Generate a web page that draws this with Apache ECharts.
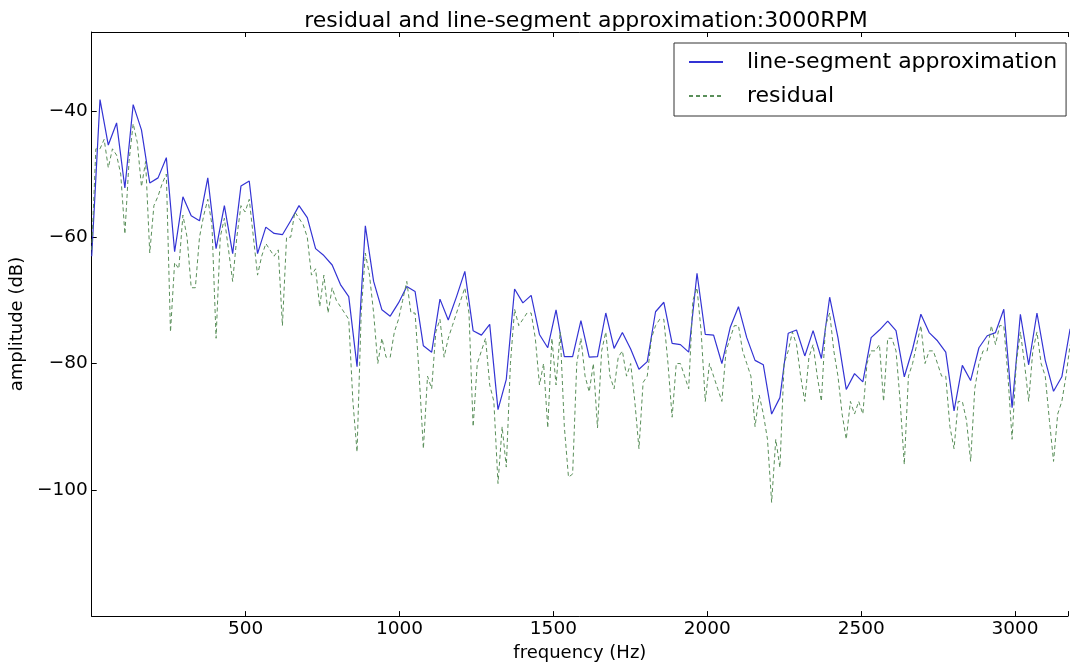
<!DOCTYPE html>
<html>
<head>
<meta charset="utf-8">
<script src="https://cdn.jsdelivr.net/npm/echarts@6/dist/echarts.min.js"></script>
<style>
html,body{margin:0;padding:0;background:#fff;}
#chart{width:1071px;height:667px;}
</style>
</head>
<body>
<div id="chart"></div>
<script>
// ---- data ----
const titleText = 'residual and line-segment approximation:3000RPM';
const seriesNames = ['line-segment approximation', 'residual'];
const xAxisName = 'frequency (Hz)';
const yAxisName = 'amplitude (dB)';
const xTicks = [500, 1000, 1500, 2000, 2500, 3000];
const yTicks = [-100, -80, -60, -40];

// frequency spacing of the samples (Hz)
const approxStepHz = 26.94;
const residualStepHz = 13.47;

// line-segment approximation (dB), one value per approxStepHz starting at 0 Hz
const approxDb = [
  -63.0, -38.2, -45.4, -41.9, -52.2, -39.0, -43.0, -51.4, -50.6, -47.4,
  -62.3, -53.6, -56.6, -57.4, -50.6, -61.8, -55.0, -62.6, -51.9, -51.1,
  -62.6, -58.4, -59.4, -59.6, -57.4, -55.0, -56.9, -61.8, -62.9, -64.4,
  -67.5, -69.4, -80.5, -58.2, -67.0, -71.5, -72.5, -70.4, -67.8, -68.6,
  -77.2, -78.2, -69.8, -73.1, -69.4, -65.4, -74.8, -75.5, -73.8, -87.3,
  -82.5, -68.2, -70.4, -69.2, -75.4, -77.5, -71.5, -78.9, -78.9, -73.2,
  -79.0, -78.9, -72.0, -77.6, -75.1, -77.7, -80.9, -79.7, -71.8, -70.3,
  -76.8, -77.0, -78.2, -65.7, -75.4, -75.5, -80.0, -74.3, -71.0, -75.9,
  -79.5, -80.2, -88.0, -85.4, -75.2, -74.7, -78.8, -74.8, -79.2, -69.5,
  -75.9, -84.1, -81.6, -82.9, -75.9, -74.7, -73.3, -74.8, -82.1, -77.7,
  -72.2, -75.1, -76.4, -78.2, -87.5, -80.3, -82.7, -77.5, -75.6, -75.1,
  -71.4, -87.0, -72.2, -80.2, -72.0, -79.5, -84.4, -82.1, -74.5
];

// residual (dB), one value per residualStepHz starting at 0 Hz
const residualDb = [
  -62, -46, -46, -44.5, -49, -46, -47, -50, -59.5, -48,
  -42, -45, -52, -48, -62.5, -55, -53.5, -51.5, -50, -75,
  -64, -65, -56.5, -60, -68, -68, -60, -56.6, -54, -58,
  -76, -60, -57, -62, -67, -60, -55, -56, -54, -60,
  -66, -63, -61, -62, -63, -62, -74, -60, -60, -56,
  -57, -58, -60, -66, -65, -71, -66, -72, -68, -70,
  -71, -72, -73, -86, -94, -72, -62.5, -66, -72, -80,
  -76, -79, -79, -75, -73, -70, -67, -72, -72, -82,
  -93.5, -82, -84, -75, -73, -79, -76, -74, -72, -70,
  -68, -72, -90, -80, -78, -76, -83.4, -86, -99, -90,
  -96.4, -80, -71.4, -74, -73, -72, -72, -76, -83.4, -80,
  -90.2, -76, -83.4, -75, -90, -98, -97.5, -80, -76, -82,
  -84.5, -80, -90.2, -78, -75, -82, -84, -79, -78, -82,
  -80, -86, -93.5, -83, -82, -76, -74, -73, -73, -80,
  -88.5, -80, -80, -82, -84, -70, -68, -75, -86, -80,
  -82, -84, -86, -78, -76, -74, -74, -78, -80, -82,
  -90, -85, -88, -92, -102, -92, -96.5, -80, -78, -75,
  -77, -82, -86, -79, -77, -82, -86, -74, -72, -78,
  -82, -88, -92, -86, -88, -86, -88, -80, -78, -78,
  -77, -86, -76, -76, -78, -86, -96, -82, -80, -77,
  -74, -80, -78, -78, -80, -82, -82, -90, -93.5, -86,
  -86, -89, -95.5, -84, -80, -78, -78, -74, -77, -74,
  -74, -82, -92, -80, -75, -80, -86, -78, -75, -80,
  -82, -89, -95.5, -88, -86, -82, -77
];

// ---- build ----
const approxPts = approxDb.map((v, i) => [i * approxStepHz, v]);
const residualPts = residualDb.map((v, i) => [i * residualStepHz, v]);

const FONT = 'DejaVu Sans';
const chart = echarts.init(document.getElementById('chart'), null, {renderer: 'canvas'});

const xLabelFmt = v => (xTicks.indexOf(v) >= 0 ? String(v) : '');
const yLabelFmt = v => (yTicks.indexOf(v) >= 0 ? String(v).replace('-', '\u2212') : '');

chart.setOption({
  animation: false,
  backgroundColor: '#ffffff',
  title: {
    text: titleText,
    left: 581,
    top: 5,
    textAlign: 'center',
    textStyle: {fontFamily: FONT, fontSize: 22, fontWeight: 'normal', color: '#000'}
  },
  legend: {
    data: seriesNames,
    orient: 'vertical',
    left: 674,
    top: 43,
    padding: [8, 9, 9, 14],
    itemWidth: 34,
    itemHeight: 14,
    itemGap: 12,
    backgroundColor: '#ffffff',
    borderColor: '#333',
    borderWidth: 1,
    borderRadius: 0,
    itemStyle: {opacity: 0, color: 'rgba(0,0,0,0)', borderWidth: 0},
    textStyle: {fontFamily: FONT, fontSize: 22, color: '#000', padding: [0, 0, 0, 19]}
  },
  grid: {left: 85, top: 32, right: 0, bottom: 45, containLabel: false},
  xAxis: [{
    type: 'value',
    min: 0,
    max: 3172,
    interval: 500,
    name: xAxisName,
    nameLocation: 'middle',
    nameGap: 26,
    nameTextStyle: {fontFamily: FONT, fontSize: 18, color: '#000'},
    axisLine: {show: true, onZero: false, lineStyle: {color: '#000', width: 1}},
    axisTick: {show: true, inside: true, length: 5, lineStyle: {color: '#000'}},
    axisLabel: {formatter: xLabelFmt, fontFamily: FONT, fontSize: 18.5, color: '#000', margin: 4, showMinLabel: true, showMaxLabel: true},
    splitLine: {show: false}
  }, {
    type: 'value',
    position: 'top',
    min: 0,
    max: 3172,
    interval: 500,
    axisLine: {show: true, onZero: false, lineStyle: {color: '#000', width: 1}},
    axisTick: {show: true, inside: true, length: 5, lineStyle: {color: '#000'}},
    axisLabel: {show: false},
    splitLine: {show: false}
  }],
  yAxis: [{
    type: 'value',
    min: -120,
    max: -27.5,
    interval: 20,
    name: yAxisName,
    nameLocation: 'middle',
    nameGap: 52,
    nameRotate: 90,
    nameTextStyle: {fontFamily: FONT, fontSize: 18, color: '#000'},
    axisLine: {show: true, onZero: false, lineStyle: {color: '#000', width: 1}},
    axisTick: {show: true, inside: true, length: 5, lineStyle: {color: '#000'}},
    axisLabel: {formatter: yLabelFmt, fontFamily: FONT, fontSize: 18.5, color: '#000', margin: 4},
    splitLine: {show: false}
  }],
  series: [{
    name: seriesNames[0],
    type: 'line',
    data: approxPts,
    symbol: 'none',
    clip: true,
    lineStyle: {color: '#3333d4', width: 1.2},
    itemStyle: {color: '#3333d4'},
    z: 3
  }, {
    name: seriesNames[1],
    type: 'line',
    data: residualPts,
    symbol: 'none',
    clip: true,
    lineStyle: {color: '#5a8f5a', width: 1, type: [4, 3]},
    itemStyle: {color: '#5a8f5a'},
    z: 4
  }]
});
</script>
</body>
</html>
